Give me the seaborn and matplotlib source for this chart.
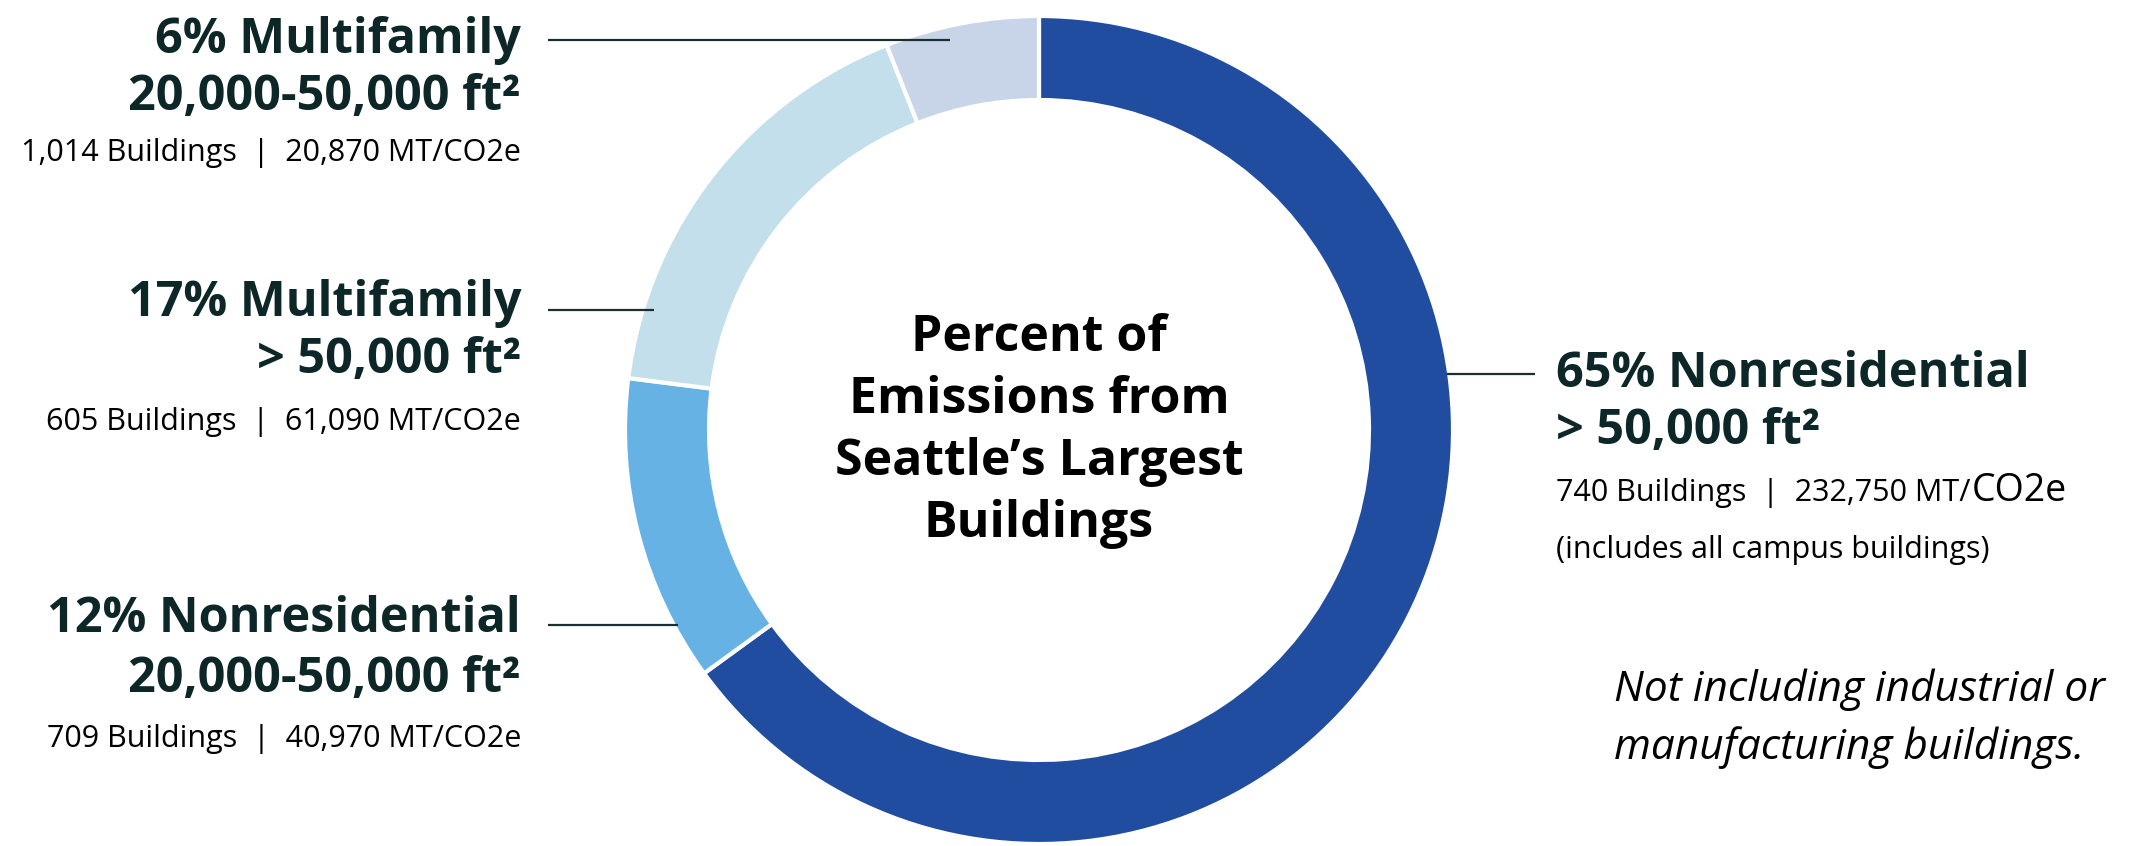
import matplotlib
matplotlib.use("Agg")
import matplotlib.pyplot as plt
import seaborn as sns

# ---------------- data ----------------
percent = [65, 12, 17, 6]
kinds = ["Nonresidential", "Nonresidential", "Multifamily", "Multifamily"]
sizes = ["> 50,000 ft²", "20,000-50,000 ft²", "> 50,000 ft²", "20,000-50,000 ft²"]
buildings = ["740", "709", "605", "1,014"]
emissions = ["232,750", "40,970", "61,090", "20,870"]
colors = ["#214DA0", "#66B2E5", "#C3DFEB", "#C8D5E8"]
center_title = ["Percent of", "Emissions from", "Seattle’s Largest", "Buildings"]
note_lines = ["Not including industrial or", "manufacturing buildings."]
extra_note = "(includes all campus buildings)"

# ---------------- style ----------------
sns.set_theme(style="white")
plt.rcParams["font.family"] = ["Open Sans", "DejaVu Sans"]

W, H = 2149, 846
fig = plt.figure(figsize=(W / 100, H / 100), dpi=100)
ax = fig.add_axes([0, 0, 1, 1])

def Y(y):
    return H - y

cx, cy, R, ring = 1039, 430, 414, 84
ax.pie(percent, colors=colors, startangle=90, counterclock=False,
       center=(cx, Y(cy)), radius=R, frame=True,
       wedgeprops=dict(width=ring, edgecolor="white", linewidth=3))
ax.set_xlim(0, W)
ax.set_ylim(0, H)
ax.axis("off")

dark = "#0D2627"
big = 35
small = 22

# center title
for i, line in enumerate(center_title):
    ax.text(cx, Y(338 + 62 * i), line, ha="center", va="center",
            fontsize=36, fontweight="bold", color="black")

# label layout: (anchor x, ha, line ys, leader (x0, x1, y))
layout = [
    (1556, "left", [374, 431, 490], (1447, 1535, 374)),
    (521, "right", [619, 679, 739], (548, 678, 625)),
    (521, "right", [303, 360, 422], (548, 654, 310)),
    (521, "right", [40, 97, 153], (548, 950, 40)),
]

renderer = fig.canvas.get_renderer()
inv = ax.transData.inverted()

for i, (x, ha, ys, (lx0, lx1, ly)) in enumerate(layout):
    ax.text(x, Y(ys[0]), f"{percent[i]}% {kinds[i]}", ha=ha, va="center",
            fontsize=big, fontweight="bold", color=dark)
    ax.text(x, Y(ys[1]), sizes[i], ha=ha, va="center",
            fontsize=big, fontweight="bold", color=dark)
    if ha == "left":
        base = Y(ys[2] + 11)
        t = ax.text(x, base, f"{buildings[i]} Buildings  |  {emissions[i]} MT/",
                    ha="left", va="baseline", fontsize=small, color="black")
        bb = t.get_window_extent(renderer=renderer)
        x_end = inv.transform((bb.x1, bb.y0))[0]
        ax.text(x_end + 1, base, "CO2e", ha="left", va="baseline",
                fontsize=27, color="black")
    else:
        ax.text(x, Y(ys[2]), f"{buildings[i]} Buildings  |  {emissions[i]} MT/CO2e",
                ha=ha, va="center", fontsize=small, color="black")
    ax.plot([lx0, lx1], [Y(ly), Y(ly)], color="#1B2F30", lw=1.6,
            solid_capstyle="butt", zorder=5)

ax.text(1556, Y(550), extra_note, ha="left", va="center",
        fontsize=small, color="black")

for i, line in enumerate(note_lines):
    ax.text(1614, Y(690 + 58 * i), line, ha="left", va="center",
            fontsize=30.5, fontstyle="italic", color="black")

fig.savefig("out.png", dpi=100, facecolor="white")
